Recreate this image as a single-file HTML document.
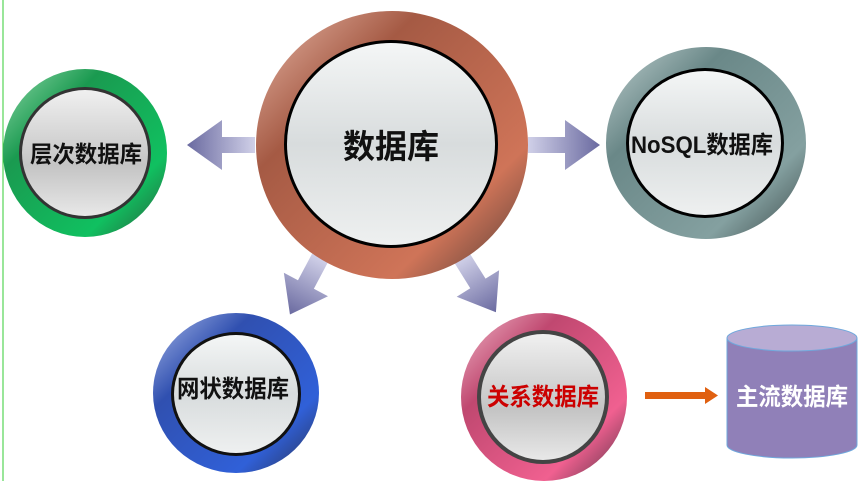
<!DOCTYPE html>
<html><head><meta charset="utf-8"><style>
html,body{margin:0;padding:0;background:#fff;width:865px;height:481px;overflow:hidden}
text{font-family:"Liberation Sans","Noto Sans CJK SC",sans-serif;font-weight:bold}
</style></head><body>
<svg width="865" height="481" viewBox="0 0 865 481" xmlns="http://www.w3.org/2000/svg">
<defs>
<linearGradient id="inner" x1="0" y1="0" x2="0" y2="1"><stop offset="0" stop-color="#f4f6f6"/><stop offset="0.5" stop-color="#d8dcdd"/><stop offset="1" stop-color="#eef0f0"/></linearGradient>
<linearGradient id="innerG" x1="0" y1="0" x2="0" y2="1"><stop offset="0" stop-color="#f0f0f0"/><stop offset="0.6" stop-color="#c4c4c4"/><stop offset="1" stop-color="#e8e8e8"/></linearGradient>
<linearGradient id="brown" x1="0" y1="0" x2="1" y2="1"><stop offset="0" stop-color="#e8b8a8"/><stop offset="0.3" stop-color="#a55a44"/><stop offset="0.75" stop-color="#cf7458"/><stop offset="1" stop-color="#4d3a35"/></linearGradient>
<linearGradient id="green" x1="0" y1="0" x2="1" y2="1"><stop offset="0" stop-color="#8fd8a8"/><stop offset="0.3" stop-color="#1a9a50"/><stop offset="0.75" stop-color="#10c060"/><stop offset="1" stop-color="#2a5a3a"/></linearGradient>
<linearGradient id="grey" x1="0" y1="0" x2="1" y2="1"><stop offset="0" stop-color="#c0d0d0"/><stop offset="0.3" stop-color="#6a8888"/><stop offset="0.75" stop-color="#84a0a0"/><stop offset="1" stop-color="#3a4848"/></linearGradient>
<linearGradient id="blue" x1="0" y1="0" x2="1" y2="1"><stop offset="0" stop-color="#a8b8e8"/><stop offset="0.3" stop-color="#3050b0"/><stop offset="0.75" stop-color="#3060d8"/><stop offset="1" stop-color="#2a3050"/></linearGradient>
<linearGradient id="pink" x1="0" y1="0" x2="1" y2="1"><stop offset="0" stop-color="#f0b8c8"/><stop offset="0.3" stop-color="#c04870"/><stop offset="0.75" stop-color="#f06090"/><stop offset="1" stop-color="#503040"/></linearGradient>
<linearGradient id="arr" x1="0" y1="0" x2="1" y2="0"><stop offset="0" stop-color="#d0d0e8"/><stop offset="1" stop-color="#6a6aa0"/></linearGradient>
</defs>
<line x1="3" y1="0" x2="3" y2="481" stroke="#33cc33" stroke-width="1"/>
<g transform="translate(255,145) rotate(180)"><polygon points="0,-8 33,-8 33,-25 68,0 33,25 33,8 0,8" fill="url(#arr)"/></g>
<g transform="translate(528,145)"><polygon points="0,-8 37,-8 37,-25 72,0 37,25 37,8 0,8" fill="url(#arr)"/></g>
<g transform="translate(320,258) rotate(118)"><polygon points="0,-9 30,-9 30,-25 64,0 30,25 30,9 0,9" fill="url(#arr)"/></g>
<g transform="translate(462,258) rotate(58)"><polygon points="0,-9 30,-9 30,-25 64,0 30,25 30,9 0,9" fill="url(#arr)"/></g>
<ellipse cx="392" cy="145" rx="136" ry="134" fill="url(#brown)"/>
<ellipse cx="391" cy="144" rx="107" ry="104" fill="#000"/>
<ellipse cx="391" cy="144" rx="104" ry="101" fill="url(#inner)"/>
<text x="391" y="158" font-size="33" text-anchor="middle" fill="#111" textLength="96" lengthAdjust="spacingAndGlyphs">数据库</text>
<ellipse cx="85" cy="153" rx="82" ry="84" fill="url(#green)"/>
<ellipse cx="85" cy="153" rx="66" ry="66" fill="#333"/>
<ellipse cx="85" cy="153" rx="63" ry="63" fill="url(#innerG)"/>
<text x="86" y="162" font-size="23" text-anchor="middle" fill="#111" textLength="112" lengthAdjust="spacingAndGlyphs">层次数据库</text>
<ellipse cx="706" cy="143" rx="100" ry="96" fill="url(#grey)"/>
<ellipse cx="705" cy="143" rx="79" ry="75" fill="#000"/>
<ellipse cx="705" cy="143" rx="76" ry="72" fill="url(#inner)"/>
<text x="702" y="153" font-size="24" text-anchor="middle" fill="#111" textLength="142" lengthAdjust="spacingAndGlyphs">NoSQL数据库</text>
<ellipse cx="236" cy="393" rx="83" ry="80" fill="url(#blue)"/>
<ellipse cx="236" cy="394" rx="65" ry="62" fill="#111"/>
<ellipse cx="236" cy="394" rx="62" ry="59" fill="url(#inner)"/>
<text x="233" y="397" font-size="24" text-anchor="middle" fill="#111" textLength="112" lengthAdjust="spacingAndGlyphs">网状数据库</text>
<ellipse cx="544" cy="397" rx="83" ry="84" fill="url(#pink)"/>
<ellipse cx="543" cy="397" rx="66" ry="67" fill="#444"/>
<ellipse cx="543" cy="397" rx="62" ry="63" fill="url(#innerG)"/>
<text x="543" y="405" font-size="24" text-anchor="middle" fill="#cc0000" textLength="112" lengthAdjust="spacingAndGlyphs">关系数据库</text>
<rect x="645" y="392" width="62" height="7" fill="#e06010"/>
<polygon points="705,387 718,395.5 705,404" fill="#e06010"/>
<path d="M727,338 L727,445 A65,13 0 0 0 857,445 L857,338 Z" fill="#9080b8" stroke="#6fa8dc" stroke-width="1"/>
<ellipse cx="792" cy="338" rx="65" ry="13" fill="#b8acd4" stroke="#6fa8dc" stroke-width="1"/>
<text x="792" y="405" font-size="24" text-anchor="middle" fill="#fff" textLength="112" lengthAdjust="spacingAndGlyphs">主流数据库</text>
</svg>
</body></html>
